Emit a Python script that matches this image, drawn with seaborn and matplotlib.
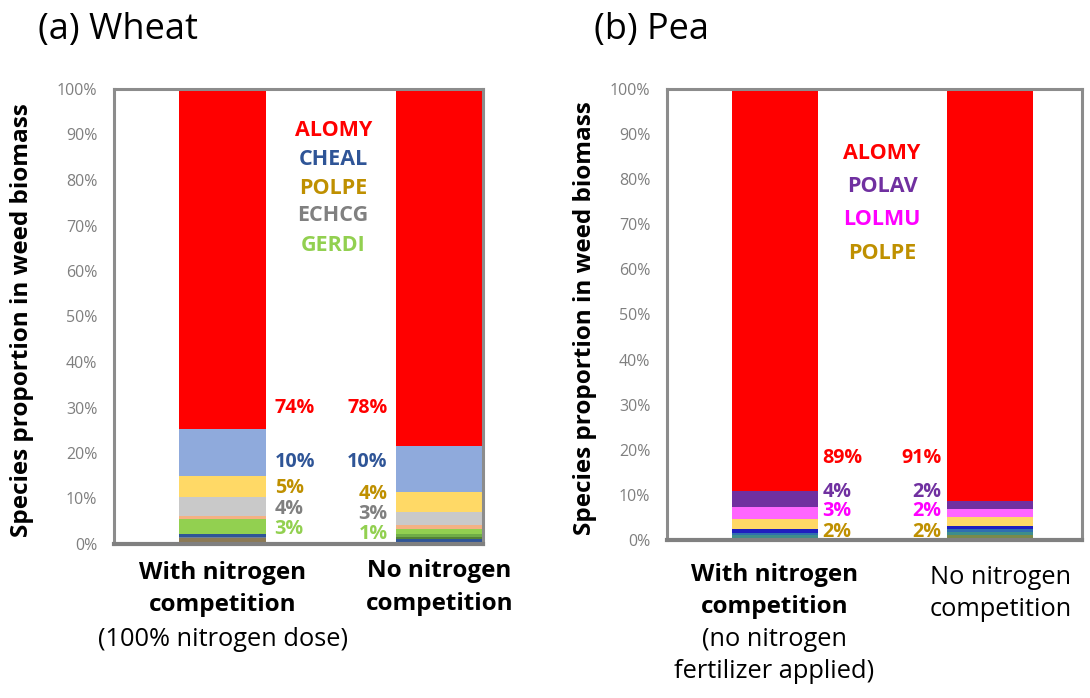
import matplotlib
matplotlib.use("Agg")
import matplotlib.pyplot as plt
import matplotlib.transforms as mtransforms
import numpy as np
import pandas as pd
import seaborn as sns

# ---- data: species shares (%) of weed biomass, listed bottom -> top of each stack ----
treatments = ["With N competition", "No N competition"]

wheat_species = ["sp_orange", "sp_brown", "sp_slate", "sp_navy", "sp_darkgreen", "sp_midgreen",
                 "GERDI", "sp_salmon", "ECHCG", "POLPE", "CHEAL", "ALOMY"]
wheat_with_n = [0.5, 0.8, 0.3, 0.6, 0.0, 0.0, 3.3, 0.7, 4.2, 4.6, 10.3, 74.7]
wheat_no_n = [0.4, 0.0, 0.0, 0.6, 0.5, 0.8, 0.9, 0.9, 2.9, 4.4, 10.1, 78.5]
wheat_colors = ["#C9A227", "#8C7A55", "#6E7F99", "#2F5597", "#548235", "#70AD47",
                "#92D050", "#F4B183", "#C9C9C9", "#FFD966", "#8FAADC", "#FF0000"]

pea_species = ["sp_brown", "sp_olive", "sp_teal", "sp_blue", "sp_navy",
               "POLPE", "LOLMU", "POLAV", "ALOMY"]
pea_with_n = [0.2, 0.3, 0.5, 0.5, 0.9, 2.2, 2.7, 3.5, 89.2]
pea_no_n = [0.5, 0.5, 0.7, 0.7, 0.7, 1.9, 1.8, 1.9, 91.3]
pea_colors = ["#A88A3A", "#7A8A4A", "#3E8E8A", "#2F6FB0", "#1F1FBF",
              "#FFD966", "#FF66FF", "#7030A0", "#FF0000"]

# rounded value labels and the named-species key
wheat_key = ["ALOMY", "CHEAL", "POLPE", "ECHCG", "GERDI"]
wheat_key_colors = ["#FF0000", "#2F5597", "#BF9000", "#808080", "#92D050"]
wheat_labels_with_n = ["74%", "10%", "5%", "4%", "3%"]
wheat_labels_no_n = ["78%", "10%", "4%", "3%", "1%"]

pea_key = ["ALOMY", "POLAV", "LOLMU", "POLPE"]
pea_key_colors = ["#FF0000", "#7030A0", "#FF00FF", "#BF9000"]
pea_labels_with_n = ["89%", "4%", "3%", "2%"]
pea_labels_no_n = ["91%", "2%", "2%", "2%"]

FONT = "Open Sans"
sns.set_theme(style="white")
plt.rcParams["font.family"] = [FONT, "DejaVu Sans"]

fig = plt.figure(figsize=(10.9, 6.98), dpi=100)
ax1 = fig.add_axes([114 / 1090, 1 - 544 / 698, 369 / 1090, 455 / 698])
ax2 = fig.add_axes([667 / 1090, 1 - 540 / 698, 415 / 1090, 451 / 698])


def stacked(ax, species, a, b, colors):
    df = pd.DataFrame({"species": species * 2,
                       "treatment": [treatments[0]] * len(species) + [treatments[1]] * len(species),
                       "share": list(a) + list(b)})
    df["cum"] = df.groupby("treatment")["share"].cumsum()
    # draw the tallest cumulative total first so each lower layer sits on top
    for sp, col in reversed(list(zip(species, colors))):
        sub = df[df["species"] == sp]
        sns.barplot(data=sub, x="treatment", y="cum", order=treatments, color=col,
                    saturation=1, width=0.4, linewidth=0, edgecolor="none", ax=ax,
                    errorbar=None)


def style(ax, xmax):
    ax.set_xlim(-0.5, xmax)
    ax.set_ylim(0, 100)
    ax.set_yticks(np.arange(0, 101, 10))
    ax.set_yticklabels([f"{v}%" for v in range(0, 101, 10)])
    ax.set_xticks([])
    ax.set_xlabel("")
    ax.set_ylabel("")
    ax.tick_params(axis="y", length=0, pad=12, labelsize=11.5, labelcolor="#7F7F7F")
    for s in ["left", "top", "right"]:
        ax.spines[s].set_color("#8C8C8C")
        ax.spines[s].set_linewidth(2.2)
    ax.spines["bottom"].set_color("#808080")
    ax.spines["bottom"].set_linewidth(3.0)


stacked(ax1, wheat_species, wheat_with_n, wheat_no_n, wheat_colors)
stacked(ax2, pea_species, pea_with_n, pea_no_n, pea_colors)
style(ax1, 1.2)
style(ax2, 1.43)

KSIZE = 15.5   # species key
VSIZE = 14.2   # value labels beside the bars
# wheat value labels
ys_left = [29.9, 18.0, 12.4, 7.8, 3.3]
ys_right = [29.9, 18.0, 11.0, 6.6, 2.2]
for t, y, c in zip(wheat_labels_with_n, ys_left, wheat_key_colors):
    ax1.text(0.24, y, t, color=c, fontsize=VSIZE, fontweight="bold", ha="left", va="center")
for t, y, c in zip(wheat_labels_no_n, ys_right, wheat_key_colors):
    ax1.text(0.76, y, t, color=c, fontsize=VSIZE, fontweight="bold", ha="right", va="center")
for t, y, c in zip(wheat_key, [90.8, 84.4, 78.2, 72.1, 65.7], wheat_key_colors):
    ax1.text(0.51, y, t, color=c, fontsize=KSIZE, fontweight="bold", ha="center", va="center")

# pea value labels
ys_pea = [18.2, 10.7, 6.5, 1.7]
for t, y, c in zip(pea_labels_with_n, ys_pea, pea_key_colors):
    ax2.text(0.223, y, t, color=c, fontsize=VSIZE, fontweight="bold", ha="left", va="center")
for t, y, c in zip(pea_labels_no_n, ys_pea, pea_key_colors):
    ax2.text(0.777, y, t, color=c, fontsize=VSIZE, fontweight="bold", ha="right", va="center")
for t, y, c in zip(pea_key, [85.6, 78.3, 71.0, 63.6], pea_key_colors):
    ax2.text(0.50, y, t, color=c, fontsize=KSIZE, fontweight="bold", ha="center", va="center")

# category labels under the bars
XSIZE = 17.5


def cat_label(ax, x, lines):
    tr = mtransforms.blended_transform_factory(ax.transData, fig.transFigure)
    for txt, ypx, weight in lines:
        ax.text(x, 1 - ypx / 698, txt, transform=tr, ha="center", va="center",
                fontsize=XSIZE if weight == "bold" else XSIZE + 0.8,
                fontweight=weight, color="black")


cat_label(ax1, 0.0, [("With nitrogen", 573, "bold"), ("competition", 605, "bold"),
                     ("(100% nitrogen dose)", 640, "normal")])
cat_label(ax1, 1.0, [("No nitrogen", 571, "bold"), ("competition", 604, "bold")])
cat_label(ax2, 0.0, [("With nitrogen", 575, "bold"), ("competition", 607, "bold"),
                     ("(no nitrogen", 640, "normal"), ("fertilizer applied)", 672, "normal")])
cat_label(ax2, 1.05, [("No nitrogen", 577, "normal"), ("competition", 610, "normal")])

# axis titles and panel titles
for xpx, ypx in [(22, 320), (585, 318)]:
    fig.text(xpx / 1090, 1 - ypx / 698, "Species proportion in weed biomass", rotation=90,
             ha="center", va="center", fontsize=17.5, fontweight="bold", color="black")
fig.text(38 / 1090, 1 - 30 / 698, "(a) Wheat", ha="left", va="center", fontsize=26, color="black")
fig.text(594 / 1090, 1 - 30 / 698, "(b) Pea", ha="left", va="center", fontsize=26, color="black")

fig.savefig("out.png", dpi=100)
